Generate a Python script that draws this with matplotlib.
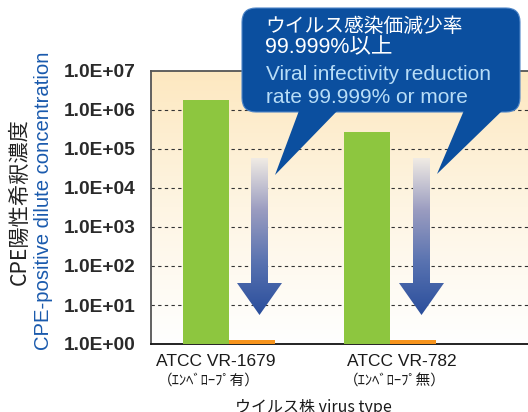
import matplotlib
matplotlib.use('Agg')
import matplotlib.pyplot as plt
import numpy as np
from matplotlib.patches import Polygon, FancyBboxPatch
from matplotlib.colors import LinearSegmentedColormap

# data
strains = ['ATCC VR-1679', 'ATCC VR-782']
envelope = ['（ｴﾝﾍﾞﾛｰﾌﾟ有）', '（ｴﾝﾍﾞﾛｰﾌﾟ無）']
before = [1.8e6, 2.7e5]      # green
after = [1.25, 1.25]         # orange (below detection)
yticks = [10.0 ** k for k in range(0, 8)]
ytick_labels = ['1.0E+{:02d}'.format(k) for k in range(0, 8)]

GREEN = '#8dc63f'
ORANGE = '#f7941d'
BLUE = '#0b4f9f'
LIGHT_BLUE = '#b8ddf7'
JP = ['Noto Sans CJK JP', 'Liberation Sans']
EN = ['Liberation Sans', 'Noto Sans CJK JP']

W, H = 528, 412
fig = plt.figure(figsize=(W / 100, H / 100), dpi=100)
fig.patch.set_facecolor('white')


def px(x0, y0, x1, y1):
    # pixel box (top-left origin) -> figure rect
    return [x0 / W, 1 - y1 / H, (x1 - x0) / W, (y1 - y0) / H]


ax = fig.add_axes(px(151, 71, 560, 344))
ax.set_yscale('log')
ax.set_ylim(1, 1e7)
ax.set_xlim(-0.48, 2.05)

# background gradient
grad = LinearSegmentedColormap.from_list('bg', ['#ffffff', '#fef5e3', '#fde8c0'])
ax.imshow(np.linspace(0, 1, 256).reshape(-1, 1), cmap=grad, aspect='auto',
          extent=[0, 1, 0, 1], origin='lower', transform=ax.transAxes, zorder=0)

width = 0.284
xpos = np.arange(len(strains))
ax.bar(xpos - width, before, width, align='edge', color=GREEN, zorder=3)
ax.bar(xpos, after, width, align='edge', color=ORANGE, zorder=3)

for k in yticks[1:-1]:
    ax.axhline(k, color='#333333', lw=0.8, ls=(0, (3, 3)), zorder=1)

ax.set_yticks(yticks)
ax.set_yticklabels(ytick_labels, family=EN, fontsize=13.8, weight='bold',
                   color='#2a2a2a')
ax.yaxis.set_minor_locator(matplotlib.ticker.NullLocator())
ax.tick_params(axis='y', length=0, pad=11)
ax.set_xticks([])
for s in ['left', 'top']:
    ax.spines[s].set_color('#555555')
    ax.spines[s].set_linewidth(1.3)
ax.spines['bottom'].set_color('#111111')
ax.spines['bottom'].set_linewidth(1.3)
ax.spines['right'].set_visible(False)

label_offsets = [-0.08, 0.07]
for i, (name, env) in enumerate(zip(strains, envelope)):
    ax.text(xpos[i] + label_offsets[i], -0.035, name, transform=ax.get_xaxis_transform(),
            ha='center', va='top', family=EN, fontsize=12.5, color='#1a1a1a')
    ax.text(xpos[i] + label_offsets[i] - 0.04, -0.11, env,
            transform=ax.get_xaxis_transform(),
            ha='center', va='top', family=JP, fontsize=10.5, color='#1a1a1a')

fig.text(20 / W, 1 - 202 / H, 'CPE陽性希釈濃度', rotation=90, ha='center',
         va='center', family=JP, fontsize=15.3, color='#222222')
fig.text(44 / W, 1 - 201 / H, 'CPE-positive dilute concentration', rotation=90,
         ha='center', va='center', family=EN, fontsize=14.6, color='#1a5aad')
fig.text(313 / W, 1 - 399 / H, 'ウイルス株 virus type', ha='center', va='top',
         family=JP, fontsize=11.5, color='#1a1a1a')

# overlay in pixel coords for callout and arrows
ov = fig.add_axes([0, 0, 1, 1])
ov.set_xlim(0, W)
ov.set_ylim(H, 0)
ov.axis('off')
ov.patch.set_alpha(0)

arrow_cmap = LinearSegmentedColormap.from_list('arr', ['#f0ebe4', '#9a9cc0', '#5872b0', '#2a4e9c'])
for cx in [259.5, 421.5]:
    pts = [(cx - 8.5, 158), (cx + 8.5, 158), (cx + 8.5, 283), (cx + 22.5, 283),
           (cx, 315), (cx - 22.5, 283), (cx - 8.5, 283)]
    poly = Polygon(pts, closed=True, facecolor='none', edgecolor='none')
    ov.add_patch(poly)
    im = ov.imshow(np.linspace(0, 1, 256).reshape(-1, 1), cmap=arrow_cmap,
                   aspect='auto', extent=[cx - 23, cx + 23, 315, 158],
                   origin='upper', zorder=4)
    im.set_clip_path(poly)

# callout
box = FancyBboxPatch((254, 20), 254, 80, boxstyle='round,pad=12,rounding_size=14',
                     facecolor=BLUE, edgecolor='#4f86c8', lw=0.8, zorder=5)
ov.add_patch(box)
for tail in [[(300, 108), (340, 108), (275, 175)],
             [(465, 108), (505, 108), (437, 174)]]:
    ov.add_patch(Polygon(tail, closed=True, facecolor=BLUE, edgecolor='none', zorder=5))

ov.text(265, 26, 'ウイルス感染価減少率', ha='left', va='center', family=JP,
        fontsize=14.2, color='white', zorder=6)
ov.text(265, 48, '99.999%以上', ha='left', va='center', family=EN,
        fontsize=15.5, color='white', zorder=6)
ov.text(266, 74, 'Viral infectivity reduction', ha='left', va='center', family=EN,
        fontsize=15, color=LIGHT_BLUE, zorder=6)
ov.text(266, 97, 'rate 99.999% or more', ha='left', va='center', family=EN,
        fontsize=15, color=LIGHT_BLUE, zorder=6)

fig.savefig('out.png', dpi=100)
